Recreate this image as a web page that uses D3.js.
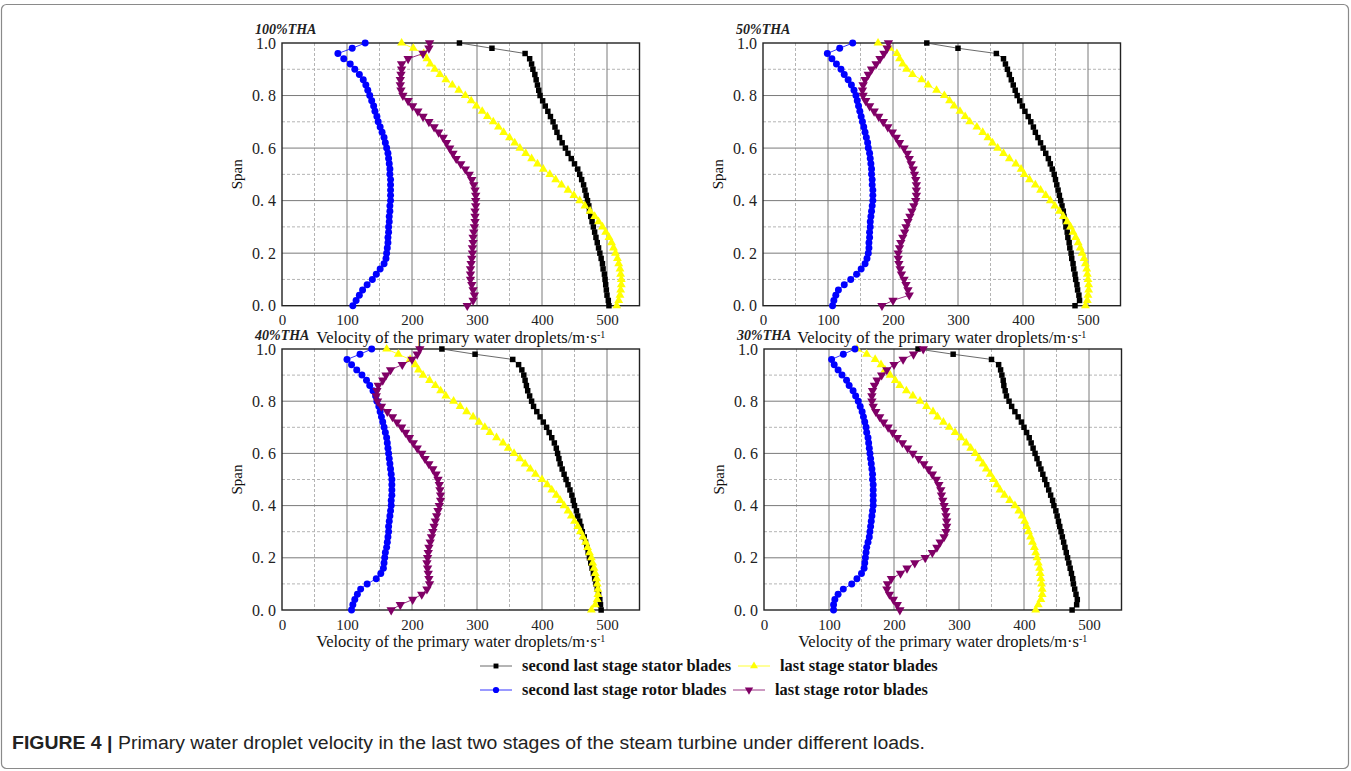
<!DOCTYPE html>
<html>
<head>
<meta charset="utf-8">
<script src="https://cdn.jsdelivr.net/npm/d3@7"></script>
<style>
  body { margin: 0; background: #fff; }
  svg { display: block; }
</style>
</head>
<body>
<svg id="chart" width="1351" height="771"></svg>
<script>
// span positions shared by every series (top of blade to hub)
const spans = [1.00, 0.98, 0.96, 0.94, 0.92, 0.90, 0.88, 0.86, 0.84, 0.82, 0.80, 0.78, 0.76, 0.74, 0.72, 0.70, 0.68,
  0.66, 0.64, 0.62, 0.60, 0.58, 0.56, 0.54, 0.52, 0.50, 0.48, 0.46, 0.44, 0.42, 0.40, 0.38, 0.36, 0.34, 0.32, 0.30,
  0.28, 0.26, 0.24, 0.22, 0.20, 0.18, 0.16, 0.14, 0.12, 0.10, 0.08, 0.06, 0.04, 0.02, 0.00];

const panelNames = ["100%THA", "50%THA", "40%THA", "30%THA"];
const seriesNames = ["second last stage stator blades", "last stage stator blades",
  "second last stage rotor blades", "last stage rotor blades"];
const xTicks = [0, 100, 200, 300, 400, 500];
const yTicks = [0, 0.2, 0.4, 0.6, 0.8, 1.0];
const yTickLabels = ["0. 0", "0. 2", "0. 4", "0. 6", "0. 8", "1.0"];

// 100% THA
const stator2nd100 = [273, 323, 374, 381, 384, 386, 389, 391, 393, 395, 397, 401, 405, 409, 413, 417, 420, 423, 427, 431,
  436, 440, 445, 450, 455, 458, 461, 464, 466, 468, 470, 472, 473, 475, 477, 479, 481, 483, 485, 487, 489, 491, 493,
  494, 496, 497, 498, 499, 500, 502, 503];
const statorLast100 = [184, 202, 218, 223, 228, 235, 243, 252, 262, 272, 282, 291, 299, 308, 316, 325, 333, 341, 350, 358,
  366, 375, 384, 393, 402, 412, 421, 430, 440, 449, 458, 466, 474, 481, 487, 493, 498, 503, 507, 510, 513, 516, 518,
  520, 521, 522, 522, 521, 520, 518, 515];
const rotor2nd100 = [128, 108, 86, 95, 105, 112, 119, 125, 129, 132, 135, 138, 141, 143, 146, 148, 151, 154, 157, 159,
  161, 163, 164, 165, 166, 166, 167, 167, 167, 167, 167, 166, 166, 165, 165, 164, 164, 163, 163, 162, 161, 160, 157,
  151, 145, 139, 131, 124, 119, 114, 109];
const rotorLast100 = [227, 226, 217, 194, 184, 184, 183, 182, 182, 183, 186, 194, 201, 209, 217, 226, 234, 241, 248, 253,
  258, 263, 268, 275, 282, 288, 292, 295, 297, 298, 298, 298, 297, 297, 297, 296, 295, 294, 294, 293, 293, 292, 291,
  290, 290, 290, 292, 294, 296, 294, 285];

// 50% THA
const stator2nd50 = [252, 300, 359, 370, 373, 376, 379, 382, 385, 388, 391, 395, 399, 403, 408, 412, 416, 419, 423, 427,
  431, 435, 439, 442, 445, 448, 450, 452, 454, 456, 458, 460, 462, 463, 465, 466, 468, 469, 471, 472, 474, 475, 477,
  478, 480, 481, 483, 484, 486, 487, 480];
const statorLast50 = [177, 195, 206, 210, 215, 221, 230, 244, 254, 267, 279, 287, 294, 303, 311, 318, 329, 338, 346, 353,
  361, 370, 379, 389, 397, 402, 410, 419, 427, 435, 442, 449, 456, 462, 468, 473, 477, 481, 485, 488, 491, 494, 496,
  498, 499, 500, 501, 501, 500, 499, 496];
const rotor2nd50 = [138, 118, 99, 106, 113, 120, 125, 131, 136, 140, 143, 145, 147, 149, 151, 153, 155, 157, 159, 161,
  162, 164, 165, 166, 167, 167, 168, 168, 169, 169, 169, 168, 167, 166, 165, 165, 164, 164, 163, 163, 162, 160, 157,
  151, 144, 135, 125, 116, 112, 109, 107];
const rotorLast50 = [193, 191, 186, 180, 174, 167, 162, 157, 154, 153, 154, 158, 164, 171, 178, 185, 192, 199, 205, 210,
  217, 222, 225, 228, 231, 233, 235, 236, 236, 236, 235, 232, 229, 226, 223, 220, 218, 215, 212, 210, 208, 208, 209,
  211, 213, 217, 220, 223, 225, 200, 183];

// 40% THA
const stator2nd40 = [246, 297, 355, 364, 369, 372, 374, 376, 378, 381, 384, 387, 392, 397, 402, 407, 411, 415, 419, 422,
  424, 426, 428, 431, 434, 437, 440, 443, 446, 448, 450, 453, 455, 458, 460, 462, 465, 467, 469, 471, 473, 475, 477,
  479, 481, 483, 485, 487, 489, 490, 491];
const statorLast40 = [161, 179, 197, 205, 210, 217, 227, 236, 244, 252, 264, 274, 284, 294, 303, 312, 320, 330, 340, 348,
  357, 366, 374, 382, 390, 400, 408, 415, 422, 428, 434, 440, 445, 450, 455, 459, 463, 467, 470, 473, 476, 478, 480,
  482, 484, 485, 486, 486, 485, 482, 476];
const rotor2nd40 = [138, 120, 100, 107, 115, 123, 130, 135, 140, 144, 146, 149, 151, 153, 155, 157, 159, 161, 162, 163,
  164, 165, 166, 167, 168, 169, 169, 169, 169, 168, 168, 167, 166, 165, 164, 164, 163, 162, 161, 159, 158, 157, 156,
  152, 145, 131, 121, 116, 112, 109, 107];
const rotorLast40 = [212, 208, 200, 185, 167, 160, 155, 148, 146, 145, 147, 153, 162, 170, 177, 184, 190, 196, 202, 208,
  215, 220, 226, 232, 237, 240, 242, 243, 244, 244, 242, 240, 238, 236, 234, 232, 230, 228, 226, 225, 224, 223, 224,
  225, 226, 227, 223, 215, 201, 182, 168];

// 30% THA
const stator2nd30 = [237, 291, 350, 361, 364, 366, 368, 369, 371, 373, 377, 381, 386, 391, 396, 400, 404, 408, 411, 414,
  417, 420, 423, 426, 429, 432, 435, 438, 441, 444, 446, 449, 451, 453, 455, 457, 459, 461, 463, 465, 467, 469, 471,
  473, 475, 476, 478, 480, 482, 481, 474];
const statorLast30 = [143, 158, 171, 180, 186, 194, 202, 209, 219, 229, 240, 250, 260, 267, 276, 285, 294, 303, 311, 318,
  325, 331, 337, 342, 348, 353, 358, 363, 370, 378, 386, 392, 397, 401, 404, 407, 410, 413, 416, 418, 420, 422, 424,
  425, 426, 427, 428, 428, 426, 422, 418];
const rotor2nd30 = [140, 122, 104, 108, 114, 120, 127, 131, 137, 141, 145, 148, 151, 153, 155, 157, 158, 160, 161, 162,
  163, 164, 165, 166, 167, 167, 168, 168, 168, 168, 168, 167, 166, 165, 164, 163, 162, 160, 158, 157, 156, 155, 154,
  150, 143, 135, 122, 114, 109, 107, 107];
const rotorLast30 = [245, 230, 214, 200, 189, 181, 174, 170, 167, 166, 166, 168, 172, 178, 184, 191, 198, 205, 213, 221,
  229, 238, 246, 253, 259, 265, 269, 272, 273, 275, 277, 279, 280, 281, 281, 280, 277, 271, 266, 259, 248, 232, 220,
  210, 196, 190, 189, 193, 199, 205, 209];

const panelData = [
  [stator2nd100, statorLast100, rotor2nd100, rotorLast100],
  [stator2nd50, statorLast50, rotor2nd50, rotorLast50],
  [stator2nd40, statorLast40, rotor2nd40, rotorLast40],
  [stator2nd30, statorLast30, rotor2nd30, rotorLast30]
];

// styling per series: stator2nd, statorLast, rotor2nd, rotorLast
const styles = [
  {fill: "#000000", line: "#444444", symbol: d3.symbolSquare, size: 30, rotate: 0},
  {fill: "#ffff00", line: "#ffff00", symbol: d3.symbolTriangle, size: 34, rotate: 0},
  {fill: "#0000ff", line: "#0000ff", symbol: d3.symbolCircle, size: 38, rotate: 0},
  {fill: "#800066", line: "#800066", symbol: d3.symbolTriangle, size: 38, rotate: 180}
];

const serif = "'Liberation Serif', 'Times New Roman', serif";
const svg = d3.select("#chart");

// outer frame
svg.append("rect")
  .attr("x", 1.5).attr("y", 4.5)
  .attr("width", 1347).attr("height", 764)
  .attr("rx", 5)
  .attr("fill", "none")
  .attr("stroke", "#8a8a8a")
  .attr("stroke-width", 1.2);

const plotW = 357.5;
const panels = [
  {left: 282, top: 43, bottom: 305.7},
  {left: 763, top: 43, bottom: 305.7},
  {left: 282, top: 349, bottom: 610},
  {left: 764, top: 349, bottom: 610}
];

panels.forEach((p, pi) => {
  const x = d3.scaleLinear().domain([0, 550]).range([p.left, p.left + plotW]);
  const y = d3.scaleLinear().domain([0, 1]).range([p.bottom, p.top]);
  const g = svg.append("g");

  // minor dashed grid
  g.selectAll(".vminor").data(d3.range(50, 550, 100)).enter().append("line")
    .attr("x1", (d) => x(d)).attr("x2", (d) => x(d))
    .attr("y1", p.top).attr("y2", p.bottom)
    .attr("stroke", "#b4b4b4").attr("stroke-width", 1).attr("stroke-dasharray", "3,2");
  g.selectAll(".hminor").data([0.1, 0.3, 0.5, 0.7, 0.9]).enter().append("line")
    .attr("x1", p.left).attr("x2", p.left + plotW)
    .attr("y1", (d) => y(d)).attr("y2", (d) => y(d))
    .attr("stroke", "#b4b4b4").attr("stroke-width", 1).attr("stroke-dasharray", "3,2");
  // major solid grid
  g.selectAll(".vmajor").data(xTicks.slice(1)).enter().append("line")
    .attr("x1", (d) => x(d)).attr("x2", (d) => x(d))
    .attr("y1", p.top).attr("y2", p.bottom)
    .attr("stroke", "#7a7a7a").attr("stroke-width", 1);
  g.selectAll(".hmajor").data(yTicks.slice(1, 5)).enter().append("line")
    .attr("x1", p.left).attr("x2", p.left + plotW)
    .attr("y1", (d) => y(d)).attr("y2", (d) => y(d))
    .attr("stroke", "#7a7a7a").attr("stroke-width", 1);

  // frame
  g.append("rect")
    .attr("x", p.left).attr("y", p.top)
    .attr("width", plotW).attr("height", p.bottom - p.top)
    .attr("fill", "none").attr("stroke", "#222").attr("stroke-width", 1.4);

  // axes
  const xAxis = g.append("g").attr("transform", `translate(0,${p.bottom})`)
    .call(d3.axisBottom(x).tickValues(xTicks).tickSize(0).tickPadding(9));
  xAxis.select(".domain").remove();
  xAxis.selectAll("text")
    .attr("font-family", serif).attr("font-size", 15).attr("fill", "#222");

  const yAxis = g.append("g").attr("transform", `translate(${p.left},0)`)
    .call(d3.axisLeft(y).tickValues(yTicks).tickSize(0).tickPadding(6)
      .tickFormat((d, i) => yTickLabels[i]));
  yAxis.select(".domain").remove();
  yAxis.selectAll("text")
    .attr("font-family", serif).attr("font-size", 16).attr("fill", "#222");

  // axis titles
  const xt = g.append("text")
    .attr("x", p.left + plotW / 2).attr("y", p.bottom + 37)
    .attr("text-anchor", "middle")
    .attr("font-family", serif).attr("font-size", 16.5).attr("fill", "#111")
    .text("Velocity of the primary water droplets/m·s");
  xt.append("tspan").attr("dy", -5).attr("font-size", 10).text("-1");

  g.append("text")
    .attr("transform", `translate(${p.left - 40},${(p.top + p.bottom) / 2}) rotate(-90)`)
    .attr("text-anchor", "middle")
    .attr("font-family", serif).attr("font-size", 15).attr("fill", "#111")
    .text("Span");

  g.append("text")
    .attr("x", p.left - 27).attr("y", p.top - 9)
    .attr("font-family", serif).attr("font-size", 14)
    .attr("font-style", "italic").attr("font-weight", "bold").attr("fill", "#222")
    .text(panelNames[pi]);

  // series
  const line = d3.line().x((d) => x(d[0])).y((d) => y(d[1]));
  panelData[pi].forEach((vals, si) => {
    const st = styles[si];
    const pts = vals.map((v, k) => [v, spans[k]]);
    g.append("path")
      .attr("d", line(pts))
      .attr("fill", "none")
      .attr("stroke", st.line)
      .attr("stroke-width", 0.8);
    g.selectAll(`.m${si}`).data(pts).enter().append("path")
      .attr("class", `m${si}`)
      .attr("d", d3.symbol().type(st.symbol).size(st.size))
      .attr("transform", (d) => `translate(${x(d[0])},${y(d[1])}) rotate(${st.rotate})`)
      .attr("fill", st.fill);
  });
});

// legend
const legendRows = [
  {y: 666, items: [{s: 0, x: 480}, {s: 1, x: 738}]},
  {y: 690, items: [{s: 2, x: 480}, {s: 3, x: 733}]}
];
legendRows.forEach((row) => {
  row.items.forEach((it) => {
    const st = styles[it.s];
    const lg = svg.append("g").attr("transform", `translate(${it.x},${row.y})`);
    lg.append("line").attr("x1", 0).attr("x2", 32).attr("y1", 0).attr("y2", 0)
      .attr("stroke", st.line).attr("stroke-width", 0.8);
    lg.append("path")
      .attr("d", d3.symbol().type(st.symbol).size(st.size * 0.8))
      .attr("transform", `translate(16,0) rotate(${st.rotate})`)
      .attr("fill", st.fill);
    lg.append("text")
      .attr("x", 42).attr("y", 5)
      .attr("font-family", serif).attr("font-size", 16.4).attr("font-weight", "bold")
      .attr("fill", "#111")
      .text(seriesNames[it.s]);
  });
});

// caption
const cap = svg.append("text")
  .attr("x", 12).attr("y", 749)
  .attr("font-family", "'Liberation Sans', Arial, sans-serif")
  .attr("font-size", 18).attr("fill", "#222")
  .attr("textLength", 913).attr("lengthAdjust", "spacingAndGlyphs");
cap.append("tspan").attr("font-weight", "bold").text("FIGURE 4 |");
cap.append("tspan").text(" Primary water droplet velocity in the last two stages of the steam turbine under different loads.");
</script>
</body>
</html>
